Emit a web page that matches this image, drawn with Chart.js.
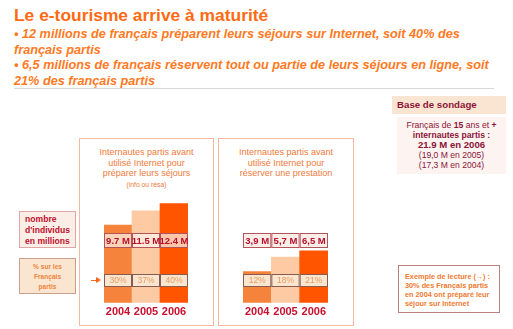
<!DOCTYPE html>
<html>
<head>
<meta charset="utf-8">
<script src="https://cdn.jsdelivr.net/npm/chart.js@4/dist/chart.umd.min.js"></script>
<style>
  body { margin: 0; width: 513px; height: 329px; background: #fff; position: relative; overflow: hidden;
         font-family: "Liberation Sans", Arial, sans-serif; }
  .abs { position: absolute; }
  #title { left: 14px; top: 5px; font-size: 17.4px; font-weight: bold; color: #ff6a13; white-space: nowrap; }
  #bullets { left: 14px; top: 27px; font-size: 12.7px; font-weight: bold; font-style: italic; color: #ff7a1f;
             line-height: 15.5px; white-space: nowrap; }
  #rule { left: 14px; top: 88px; width: 480px; height: 1px; background: #d8d8d8; }
  .panel { border: 1.5px solid #f5b9a2; top: 138px; height: 188px; box-sizing: border-box; }
  .ptitle { font-size: 9px; color: #f07a3a; text-align: center; line-height: 10.5px; white-space: nowrap; }
  .ptitle small { font-size: 6.8px; }
  canvas { position: absolute; }
  .leg { box-sizing: border-box; }
</style>
</head>
<body>
<div id="title" class="abs">Le e-tourisme arrive à maturité</div>
<div id="bullets" class="abs">• 12 millions de français préparent leurs séjours sur Internet, soit 40% des<br>français partis<br>• 6,5 millions de français réservent tout ou partie de leurs séjours en ligne, soit<br>21% des français partis</div>
<div id="rule" class="abs"></div>

<div class="abs panel" style="left:79px;width:135px;"></div>
<div class="abs panel" style="left:218px;width:136px;"></div>
<div class="abs ptitle" style="left:79px;width:135px;top:147px;">Internautes partis avant<br>utilisé Internet pour<br>préparer leurs séjours<br><small>(info ou résa)</small></div>
<div class="abs ptitle" style="left:218px;width:136px;top:147px;">Internautes partis avant<br>utilisé Internet pour<br>réserver une prestation</div>

<div class="abs leg" style="left:19px;top:211px;width:57px;height:37px;background:#fbeee6;border:1px solid #e0a6a6;
  color:#c0102e;font-weight:bold;font-size:8.6px;line-height:10.8px;padding:2px 0 0 5px;">nombre<br>d'individus<br>en millions</div>
<div class="abs leg" style="left:19px;top:258px;width:57px;height:36px;background:#fae5d0;border:1px solid #c9a08c;
  color:#ee8540;font-weight:bold;font-size:6.6px;line-height:9.8px;text-align:center;padding-top:3px;">% sur les<br>Français<br>partis</div>
<div class="abs" style="left:91px;top:280px;width:5px;height:1px;background:#f06a1a;"></div>
<div class="abs" style="left:96px;top:277px;width:0;height:0;border-top:3.5px solid transparent;border-bottom:3.5px solid transparent;border-left:5px solid #f06a1a;"></div>

<div class="abs leg" style="left:392px;top:96px;width:114px;height:18px;background:#fae4d2;color:#8b1538;
  font-weight:bold;font-size:9.7px;padding:3px 0 0 5px;">Base de sondage</div>
<div class="abs leg" style="left:397px;top:117px;width:109px;height:57px;background:#fdf3f0;color:#8b1538;
  font-size:8.6px;line-height:10px;text-align:center;padding-top:3px;white-space:nowrap;">Français de <b>15</b> ans et <b>+</b><br><b>internautes partis :</b><br><b style="font-size:9.6px;">21.9 M en 2006</b><br>(19,0 M en 2005)<br>(17,3 M en 2004)</div>

<div class="abs leg" style="left:398px;top:265px;width:102px;height:48px;border:1px solid #b98080;color:#f07a30;
  font-weight:bold;font-size:7.3px;line-height:9px;padding:6px 0 0 6px;white-space:nowrap;">Exemple de lecture (<span style="font-size:7px;">→</span>) :<br>30% des Français partis<br>en 2004 ont préparé leur<br>séjour sur Internet</div>

<canvas id="c1" width="134" height="132" style="left:79px;top:190px;width:134px;height:132px;"></canvas>
<canvas id="c2" width="134" height="132" style="left:219px;top:190px;width:134px;height:132px;"></canvas>

<script>
const years = ['2004', '2005', '2006'];
const prepMillions = [9.7, 11.5, 12.4];
const prepPercent = [30, 37, 40];
const resaMillions = [3.9, 5.7, 6.5];
const resaPercent = [12, 18, 21];

Chart.defaults.font.family = '"Liberation Sans", Arial, sans-serif';
Chart.defaults.animation = false;

// draws the "x M" row and the "%" row on top of each column
const rowBoxes = {
  id: 'rowBoxes',
  afterDatasetsDraw(chart, args, opts) {
    const ctx = chart.ctx;
    const meta = chart.getDatasetMeta(0);
    ctx.save();
    meta.data.forEach(function (bar, i) {
      const w = bar.width, x0 = bar.x - w / 2;
      // millions row
      ctx.fillStyle = opts.millionsFill;
      ctx.fillRect(x0, opts.millionsY, w, 14);
      ctx.strokeStyle = '#b3545a';
      ctx.lineWidth = 1;
      ctx.strokeRect(x0 + 0.5, opts.millionsY + 0.5, w - 1, 14);
      ctx.fillStyle = '#b8102c';
      ctx.font = 'bold 9.5px "Liberation Sans", Arial';
      ctx.textAlign = 'center';
      ctx.textBaseline = 'middle';
      ctx.fillText(String(opts.millions[i]).replace('.', opts.sep) + ' M', bar.x, opts.millionsY + 8);
      // percent row
      ctx.fillStyle = '#f8e6d0';
      ctx.fillRect(x0, opts.pctY, w, 12);
      ctx.strokeStyle = '#8a5a4c';
      ctx.strokeRect(x0 + 0.5, opts.pctY + 0.5, w - 1, 12);
      ctx.fillStyle = '#eb9a5e';
      ctx.font = '8.5px "Liberation Sans", Arial';
      ctx.fillText(opts.pct[i] + '%', bar.x, opts.pctY + 7);
    });
    ctx.restore();
  }
};

function makeChart(id, millions, pct, sep, millionsFill, padL, padR) {
  return new Chart(document.getElementById(id), {
    type: 'bar',
    data: {
      labels: years,
      datasets: [{
        data: millions,
        backgroundColor: ['#f5833c', '#fdcaa4', '#ff5500'],
        borderWidth: 0,
        barPercentage: 1,
        categoryPercentage: 1
      }]
    },
    options: {
      responsive: false,
      devicePixelRatio: 1,
      layout: { padding: { left: padL, right: padR, top: 0, bottom: 0 } },
      plugins: {
        legend: { display: false },
        tooltip: { enabled: false },
        rowBoxes: { millions: millions, pct: pct, sep: sep, millionsFill: millionsFill, millionsY: 43, pctY: 84 }
      },
      scales: {
        x: {
          grid: { display: false, drawTicks: false },
          border: { display: false },
          ticks: { color: '#c8102e', font: { size: 11, weight: 'bold' }, padding: 3,
                   autoSkip: false, maxRotation: 0, minRotation: 0 }
        },
        y: { display: false, min: 0, max: 14.1 }
      }
    },
    plugins: [rowBoxes]
  });
}

makeChart('c1', prepMillions, prepPercent, '.', 'rgba(255,244,234,0.72)', 25, 25);
makeChart('c2', resaMillions, resaPercent, ',', '#fbeee8', 24, 25);
</script>
</body>
</html>
